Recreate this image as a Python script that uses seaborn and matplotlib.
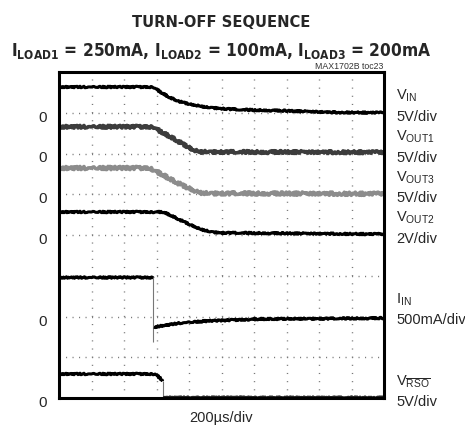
import matplotlib
matplotlib.use("Agg")
import matplotlib.pyplot as plt
import matplotlib.font_manager as fm
from matplotlib.transforms import ScaledTranslation, blended_transform_factory
import pandas as pd
import seaborn as sns

## scope traces, time in us (200us/div), values in channel units
t_vin = [0, 580, 621, 683, 745, 806, 909, 1011, 1114, 1378, 1686, 2000]
v_vin = [3.16, 3.16, 2.59, 1.85, 1.36, 1.04, 0.67, 0.50, 0.38, 0.25, 0.05, 0.0]

t_vout1 = [0, 580, 621, 703, 785, 826, 868, 2000]
v_vout1 = [3.28, 3.28, 2.75, 1.85, 0.90, 0.43, 0.20, 0.15]

t_vout3 = [0, 560, 621, 703, 785, 847, 888, 2000]
v_vout3 = [3.22, 3.22, 2.57, 1.66, 0.85, 0.31, 0.12, 0.05]

t_vout2 = [0, 642, 683, 745, 806, 868, 929, 991, 2000]
v_vout2 = [1.13, 1.13, 0.98, 0.74, 0.51, 0.29, 0.16, 0.11, 0.04]

t_iin_on = [0, 578]
v_iin_on = [485, 485]
t_iin_step = [578, 578]
v_iin_step = [485, -313]
t_iin_off = [585, 745, 911, 1237, 1606, 2000]
v_iin_off = [-129, -80, -55, -31, -26, -20]

t_rso_on = [0, 591, 622, 640]
v_rso_on = [2.95, 2.95, 2.45, 2.10]
t_rso_step = [640, 640]
v_rso_step = [2.10, 0.15]
t_rso_off = [640, 2000]
v_rso_off = [0.15, 0.15]

## channel zero (division) and scale (units/div)
zero = {"VIN": 7, "VOUT1": 6, "VOUT3": 5, "VOUT2": 4, "IIN": 2, "RSO": 0}
scale = {"VIN": 5, "VOUT1": 5, "VOUT3": 5, "VOUT2": 2, "IIN": 500, "RSO": 5}

names = [r"$\mathrm{V_{IN}}$", r"$\mathrm{V_{OUT1}}$", r"$\mathrm{V_{OUT3}}$",
         r"$\mathrm{V_{OUT2}}$", r"$\mathrm{I_{IN}}$", r"$\mathrm{V_{\overline{RSO}}}$"]
units = ["5V/div", "5V/div", "5V/div", "2V/div", "500mA/div", "5V/div"]
channels = ["VIN", "VOUT1", "VOUT3", "VOUT2", "IIN", "RSO"]

sns.set_style("white")
plt.rcParams["font.family"] = ["Liberation Sans", "DejaVu Sans"]
plt.rcParams["mathtext.fontset"] = "custom"
plt.rcParams["mathtext.rm"] = "Liberation Sans"
plt.rcParams["lines.scale_dashes"] = False

## condensed bold face for the headline if there is one
cond = [f for f in fm.fontManager.ttflist
        if f.weight in (700, "bold") and f.stretch == "condensed"]
if cond:
    head = dict(family=cond[0].name, weight="bold", stretch="condensed")
    plt.rcParams["mathtext.bf"] = cond[0].name + ":weight=bold:stretch=condensed"
    size1, size2 = 11.8, 12.4
else:
    head = dict(family="Liberation Sans", weight="bold")
    plt.rcParams["mathtext.bf"] = "Liberation Sans:bold"
    size1, size2 = 11.8, 13.2

fig = plt.figure(figsize=(4.65, 4.26), dpi=100)
ax = fig.add_axes([59 / 465, 28 / 426, 325 / 465, 326 / 426])


def trace(t, v, ch, color="black", lw=2.2, noise=1.0):
    df = pd.DataFrame({"t": t, "y": [zero[ch] + x / scale[ch] for x in v]})
    sns.lineplot(data=df, x="t", y="y", ax=ax, color=color, lw=lw,
                 sort=False, estimator=None)
    line = ax.lines[-1]
    line.set_solid_capstyle("butt")
    if noise:
        line.set_sketch_params(scale=noise, length=2, randomness=2)


trace(t_vin, v_vin, "VIN", noise=0.8)
trace(t_vout1, v_vout1, "VOUT1", color="#3c3c3c", lw=2.6, noise=1.4)
trace(t_vout3, v_vout3, "VOUT3", color="#8c8c8c", lw=2.6, noise=1.6)
trace(t_vout2, v_vout2, "VOUT2", noise=0.8)
trace(t_iin_on, v_iin_on, "IIN", noise=0.8)
trace(t_iin_step, v_iin_step, "IIN", color="#777777", lw=0.8, noise=0)
trace(t_iin_off, v_iin_off, "IIN", noise=0.8)
trace(t_rso_on, v_rso_on, "RSO", noise=0.8)
trace(t_rso_step, v_rso_step, "RSO", color="#777777", lw=0.8, noise=0)
trace(t_rso_off, v_rso_off, "RSO", color="#222222", lw=1.6, noise=0.6)

## 10 x 8 graticule
ax.set_xlim(0, 2000)
ax.set_ylim(0, 8)
ax.set_xticks(range(0, 2001, 200))
ax.set_xticklabels([])
ax.set_yticks(range(0, 9))
ax.set_yticklabels(["0" if i in zero.values() else "" for i in range(0, 9)], fontsize=11)
ax.tick_params(length=0, pad=8.5)
ax.xaxis.grid(True, color="#7a7a7a", lw=1.0, dashes=(0.8, 5.07))
ax.yaxis.grid(True, color="#7a7a7a", lw=1.0, dashes=(0.8, 3.88))
ax.set_axisbelow(True)
ax.set_xlabel("")
ax.set_ylabel("")
for s in ax.spines.values():
    s.set_visible(True)
    s.set_color("black")
    s.set_linewidth(2.2)
for lab in ax.get_yticklabels():
    lab.set_transform(lab.get_transform() + ScaledTranslation(0, -0.035, fig.dpi_scale_trans))

## channel labels on the right
tr = blended_transform_factory(ax.transAxes, ax.transData)
for ch, name, unit in zip(channels, names, units):
    ax.text(1 + 12 / 325, zero[ch] - 8 / 40.75, unit, transform=tr,
            fontsize=10.5, va="baseline", ha="left")
    ax.text(1 + 12 / 325, zero[ch] + 13 / 40.75, name, transform=tr,
            fontsize=10.5, va="baseline", ha="left")

## titles
fig.text(221.5 / 465, 1 - 27 / 426, "TURN-OFF SEQUENCE", fontsize=size1,
         ha="center", va="baseline", **head)
fig.text(221.5 / 465, 1 - 56 / 426,
         r"$\mathbf{I_{LOAD1}}$ = 250mA, $\mathbf{I_{LOAD2}}$ = 100mA, $\mathbf{I_{LOAD3}}$ = 200mA",
         fontsize=size2, ha="center", va="baseline", **head)
fig.text(383 / 465, 1 - 69 / 426, "MAX1702B toc23", fontsize=6.3,
         ha="right", va="baseline", color="#333333")
fig.text(221.5 / 465, 4 / 426, "200\u00b5s/div", fontsize=10.5,
         ha="center", va="baseline")

fig.savefig("out.png", dpi=100)
